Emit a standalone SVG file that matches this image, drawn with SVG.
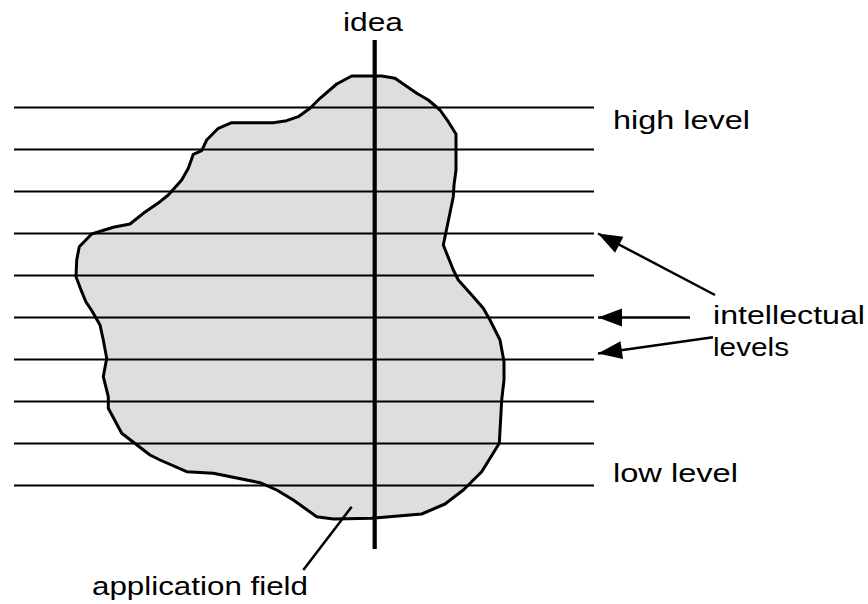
<svg xmlns="http://www.w3.org/2000/svg" width="868" height="604" viewBox="0 0 868 604">
  <style>
    .level { stroke: #000; stroke-width: 1.8; fill: none; }
    .label { font-family: "Liberation Sans", Arial, Helvetica, sans-serif; font-size: 26px; fill: #000; }
    .pointer { stroke: #000; stroke-width: 2.5; fill: none; }
  </style>
  <defs>
    <marker id="head" markerUnits="userSpaceOnUse" markerWidth="30" markerHeight="24" viewBox="-26 -12 30 24" refX="0" refY="0" orient="auto">
      <path d="M0,0 L-24,-9 L-24,9 Z" fill="#000"/>
    </marker>
  </defs>

  <rect width="868" height="604" fill="#fff"/>

  <!-- application field: irregular filled region -->
  <g id="application-field">
    <path d="M351.7,76 L381.7,76 L395,78.3 L416.7,93.3 L428.3,100 L440,110 L448.3,121.7 L456,134 L456,170 L454,185 L453.3,196.7 L443.3,245 L453.3,270 L458.3,280 L471.7,295 L483.3,308.3 L490,320 L500,340 L504,361.7 L504,380 L501.7,400 L499.3,443.3 L481.7,471.7 L463.3,490 L445,504 L421.7,514 L371.7,518.3 L333.3,519 L316.7,516.7 L293.3,500 L276.7,490 L260,482.7 L213.3,473.3 L186.7,471.7 L160,460 L150,455 L121.7,433.3 L108.3,408.3 L108.3,396.7 L103.3,376.7 L106.7,358.3 L103.3,340 L100,325 L92,311 L86,302 L81.7,291.7 L76,276.7 L76.7,260 L79.3,246.7 L91.7,234 L113.3,227.3 L130,224 L143.3,213.3 L160,201.7 L168.3,195 L181.7,180 L188.3,168.3 L193.3,154.3 L201.7,150.7 L206.7,140 L218.3,128.3 L231.7,122.7 L273.3,122.7 L286.7,120.7 L298.3,116.7 L310,108.3 L320,98.3 L336.7,84 Z" fill="#dedede" stroke="#000" stroke-width="3" stroke-linejoin="round"/>
  </g>

  <!-- intellectual levels: horizontal lines -->
  <g id="levels">
    <line class="level" x1="14" y1="107.5" x2="594" y2="107.5"/>
    <line class="level" x1="14" y1="149.5" x2="594" y2="149.5"/>
    <line class="level" x1="14" y1="191.5" x2="594" y2="191.5"/>
    <line class="level" x1="14" y1="233.5" x2="594" y2="233.5"/>
    <line class="level" x1="14" y1="275.5" x2="594" y2="275.5"/>
    <line class="level" x1="14" y1="317.5" x2="594" y2="317.5"/>
    <line class="level" x1="14" y1="359.5" x2="594" y2="359.5"/>
    <line class="level" x1="14" y1="401.5" x2="594" y2="401.5"/>
    <line class="level" x1="14" y1="443.5" x2="594" y2="443.5"/>
    <line class="level" x1="14" y1="485.5" x2="594" y2="485.5"/>
  </g>

  <!-- idea: vertical axis -->
  <g id="idea">
    <line x1="374.7" y1="40" x2="374.7" y2="549" stroke="#000" stroke-width="4.2"/>
    <text class="label" x="343" y="30.5" textLength="60" lengthAdjust="spacingAndGlyphs">idea</text>
  </g>

  <g id="high-level">
    <text class="label" x="613" y="128.5" textLength="137" lengthAdjust="spacingAndGlyphs">high level</text>
  </g>

  <g id="low-level">
    <text class="label" x="613" y="481.5" textLength="125" lengthAdjust="spacingAndGlyphs">low level</text>
  </g>

  <g id="intellectual-levels">
    <text class="label" x="713" y="323.5" textLength="152" lengthAdjust="spacingAndGlyphs">intellectual</text>
    <text class="label" x="713" y="355.5" textLength="76" lengthAdjust="spacingAndGlyphs">levels</text>
  </g>

  <g id="application-field-label">
    <text class="label" x="92" y="595" textLength="216" lengthAdjust="spacingAndGlyphs">application field</text>
  </g>

  <!-- connectors: label pointers -->
  <g id="connectors">
    <line class="pointer" x1="715" y1="295" x2="598" y2="233.5" marker-end="url(#head)"/>
    <line class="pointer" x1="690" y1="317.5" x2="598" y2="317.5" marker-end="url(#head)"/>
    <line class="pointer" x1="713" y1="337.3" x2="598" y2="353.5" marker-end="url(#head)"/>
    <line class="pointer" x1="351.7" y1="506.7" x2="303.3" y2="570"/>
  </g>
</svg>
